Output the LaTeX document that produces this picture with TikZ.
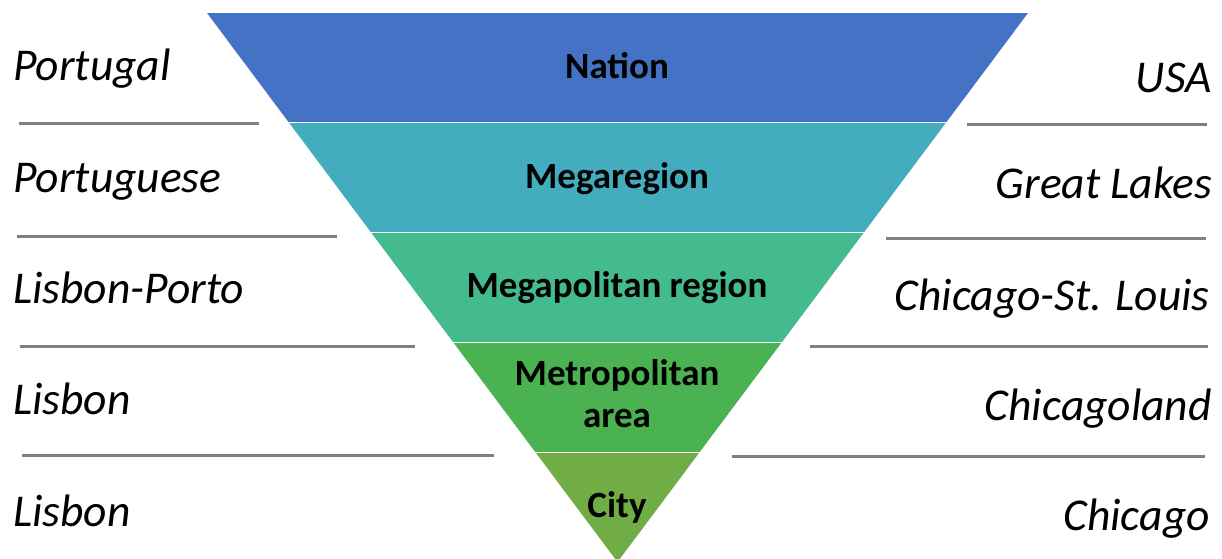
\documentclass[tikz,border=0pt]{standalone}
\usepackage{fontspec}
\setmainfont{Carlito}
\usetikzlibrary{calc}
\definecolor{cNation}{RGB}{68,114,196}
\definecolor{cMega}{RGB}{67,172,190}
\definecolor{cMegapol}{RGB}{68,187,143}
\definecolor{cMetro}{RGB}{74,178,80}
\definecolor{cCity}{RGB}{112,173,71}
\definecolor{cRule}{RGB}{128,128,128}
\tikzset{
  sidelabel/.style={inner sep=0pt, font=\fontsize{45.5}{54}\selectfont\itshape, text=black},
  lvl/.style={inner sep=0pt, font=\fontsize{37}{42}\selectfont\bfseries, text=black, align=center},
  rule/.style={draw=cRule, line width=3pt},
  sep/.style={draw=white, line width=1.2pt}
}
\begin{document}
\begin{tikzpicture}[x=1pt,y=-1pt]
\useasboundingbox (0,0) rectangle (1222,558);
\coordinate (TL) at (207,13);
\coordinate (TR) at (1028,13);
\coordinate (AP) at (617.5,562);
\foreach \k in {1,2,3,4}{
  \coordinate (L\k) at ($(TL)!\k/5!(AP)$);
  \coordinate (R\k) at ($(TR)!\k/5!(AP)$);
}
\fill[cNation] (TL) -- (TR) -- (R1) -- (L1) -- cycle;
\fill[cMega] (L1) -- (R1) -- (R2) -- (L2) -- cycle;
\fill[cMegapol] (L2) -- (R2) -- (R3) -- (L3) -- cycle;
\fill[cMetro] (L3) -- (R3) -- (R4) -- (L4) -- cycle;
\fill[cCity] (L4) -- (R4) -- (AP) -- cycle;
\foreach \k in {1,2,3,4}{ \draw[sep] (L\k) -- (R\k); }
% level names
\node[lvl, anchor=base] (nation) at (617,78) {Nation};
\node[lvl, anchor=base] (megareg) at (617,188) {Megaregion};
\node[lvl, anchor=base] (megapol) at (617,297) {Megapolitan region};
\node[lvl, anchor=base] (metro) at (617,427) {Metropolitan\\area};
\node[lvl, anchor=base] (city) at (617,517) {City};
% left labels
\node[sidelabel, anchor=base west] (p1) at (13,80) {Portugal};
\node[sidelabel, anchor=base west] (p2) at (13,192) {Portuguese};
\node[sidelabel, anchor=base west] (p3) at (13,303) {Lisbon-Porto};
\node[sidelabel, anchor=base west] (p4) at (13,414) {Lisbon};
\node[sidelabel, anchor=base west] (p5) at (13,526) {Lisbon};
% right labels
\node[sidelabel, anchor=base east] (u1) at (1212,92) {USA};
\node[sidelabel, anchor=base east] (u2) at (1212,198) {Great Lakes};
\node[sidelabel, anchor=base east] (u3) at (1210,310) {Chicago-St. Louis};
\node[sidelabel, anchor=base east] (u4) at (1212,420) {Chicagoland};
\node[sidelabel, anchor=base east] (u5) at (1210,530) {Chicago};
% rules
\draw[rule] (19,123) -- (259,123);
\draw[rule] (17,236) -- (337,236);
\draw[rule] (20,346) -- (415,346);
\draw[rule] (22,455) -- (494,455);
\draw[rule] (967,124) -- (1207,124);
\draw[rule] (886,238) -- (1206,238);
\draw[rule] (810,346) -- (1208,346);
\draw[rule] (732,456) -- (1205,456);
\end{tikzpicture}
\end{document}
